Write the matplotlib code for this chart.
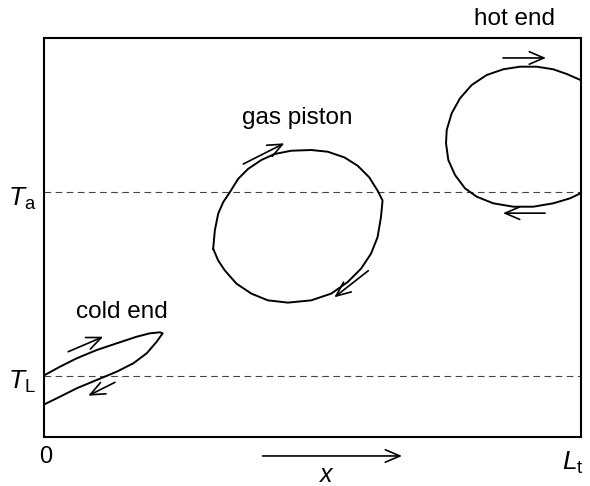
import matplotlib.pyplot as plt

plt.rcParams['font.family'] = ['Liberation Sans', 'DejaVu Sans']
plt.rcParams['mathtext.fontset'] = 'custom'
plt.rcParams['mathtext.rm'] = 'Liberation Sans'
plt.rcParams['mathtext.it'] = 'Liberation Sans:italic'

# x in % of tube length Lt, T in arbitrary units (0..100)
T_a = 61.3
T_L = 15.3

# cold end loop
cold_x = [0, 2.89, 6.01, 9.74, 13.47, 17.20, 19.68, 21.55, 22.05,
          20.93, 19.07, 16.57, 13.47, 9.74, 6.01, 2.89, 0]
cold_T = [15.5, 17.62, 19.72, 21.80, 23.48, 25.14, 25.99, 26.24, 25.99,
          23.88, 20.98, 18.47, 16.37, 14.29, 12.21, 10.10, 8.20]

# gas piston loop
gas_x = [31.47, 31.78, 32.40, 33.33, 34.57, 36.12, 37.97, 40.46, 42.94, 46.04,
         49.76, 52.84, 55.95, 58.42, 60.59, 62.14, 62.77, 63.07, 62.77, 62.14,
         60.91, 59.05, 56.56, 53.48, 49.76, 45.41, 41.69, 38.61, 35.82, 33.64,
         32.40, 31.47]
gas_T = [47.18, 51.75, 55.93, 58.83, 61.33, 64.68, 67.18, 69.43, 70.93, 71.75,
         71.93, 71.5, 70.08, 68.0, 65.08, 61.75, 60.08, 59.25, 55.08, 50.08,
         45.93, 42.18, 38.83, 35.93, 34.25, 33.68, 34.25, 35.93, 38.43, 41.75,
         44.25, 47.18]

# hot end loop (cut by the right wall)
hot_x = [100, 97.43, 94.92, 91.83, 88.71, 85.60, 82.50, 79.70, 77.52, 75.97,
         75.04, 74.91, 75.34, 76.59, 78.45, 80.64, 83.73, 87.46, 91.19, 94.92,
         98.04, 100]
hot_T = [89.47, 90.98, 92.16, 92.81, 92.81, 92.16, 90.73, 88.22, 84.89, 81.13,
         76.94, 73.61, 69.42, 65.66, 62.33, 60.23, 58.57, 57.72, 57.72, 58.57,
         59.82, 61.07]

# direction arrows: (x0, T0, x1, T1)
arrows = [
    (4.43, 21.38, 10.97, 25.14),
    (13.15, 13.71, 8.17, 10.35),
    (37.09, 68.42, 44.74, 73.61),
    (60.41, 41.68, 54.07, 35.01),
    (85.54, 95.0, 93.56, 95.0),
    (93.38, 56.1, 85.54, 56.1),
]

labels = ['cold end', 'gas piston', 'hot end']
label_x = [14.5, 47.2, 87.7]
label_T = [31.25, 80, 104.75]

fig = plt.figure(figsize=(5.9, 4.86), dpi=100)
ax = fig.add_axes([0.0754, 0.1008, 0.9085, 0.821])
ax.set_xlim(0, 100)
ax.set_ylim(0, 100)
ax.set_xticks([])
ax.set_yticks([])
for s in ax.spines.values():
    s.set_linewidth(1.5)

ax.axhline(T_a, color='#444444', lw=0.8, ls=(0, (6, 4)))
ax.axhline(T_L, color='#444444', lw=0.8, ls=(0, (6, 4)))

for xs, ts in [(cold_x, cold_T), (gas_x, gas_T), (hot_x, hot_T)]:
    ax.plot(xs, ts, color='black', lw=1.4, solid_joinstyle='round')

arrow_style = dict(arrowstyle='->,head_length=0.7,head_width=0.3',
                   mutation_scale=15, lw=1.2, color='black',
                   shrinkA=0, shrinkB=0)
for x0, y0, x1, y1 in arrows:
    ax.annotate('', xy=(x1, y1), xytext=(x0, y0), arrowprops=arrow_style,
                annotation_clip=False)

for lab, lx, ly in zip(labels, label_x, label_T):
    ax.text(lx, ly, lab, fontsize=17.5, ha='center', va='center', clip_on=False)

# axis annotations
ax.annotate('', xy=(66.7, -4.75), xytext=(40.7, -4.75), arrowprops=arrow_style,
            annotation_clip=False)
ax.text(52.5, -9.6, r'$x$', fontsize=18, ha='center', va='center', clip_on=False)
ax.text(0.3, -5, '0', fontsize=17, ha='center', va='center', clip_on=False)
ax.text(98.5, -6.5, r'$L_{\rm t}$', fontsize=19, ha='center', va='center', clip_on=False)
ax.text(-4.2, T_a - 1.5, r'$T_{\rm a}$', fontsize=19, ha='center', va='center', clip_on=False)
ax.text(-4.2, T_L - 1.5, r'$T_{\rm L}$', fontsize=19, ha='center', va='center', clip_on=False)

fig.savefig('out.png', dpi=100)
